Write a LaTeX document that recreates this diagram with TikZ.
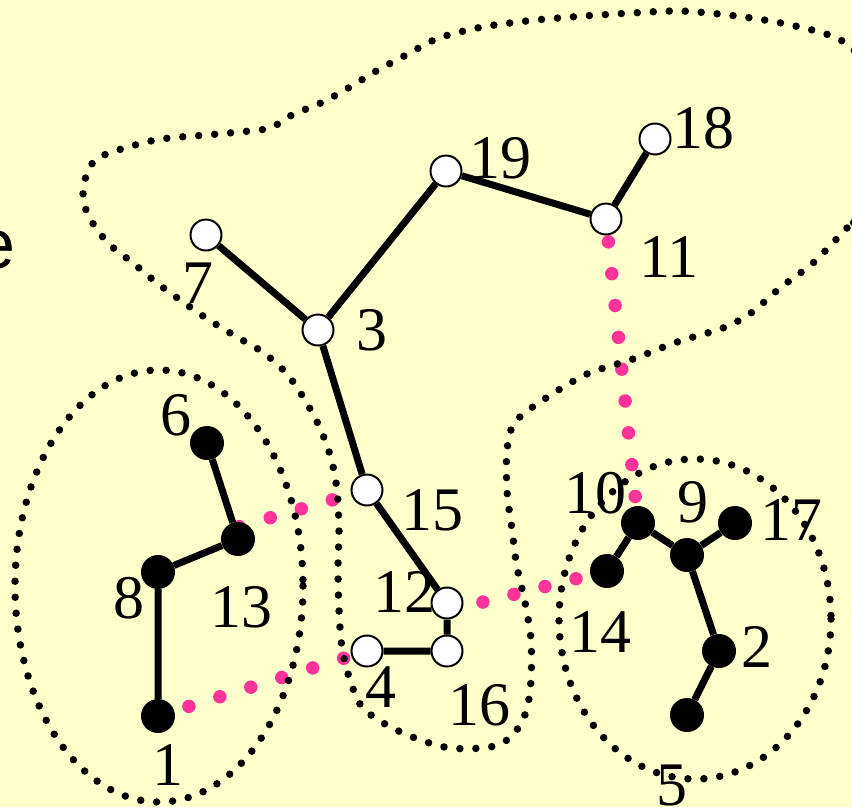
\documentclass[tikz,border=0pt]{standalone}
\usepackage{fontspec}
\setmainfont{Liberation Serif}
\newfontfamily\sansfam{Liberation Sans}
\definecolor{paper}{RGB}{255,255,204}
\definecolor{hotpink}{RGB}{255,51,153}
\pgfdeclarelayer{paperlayer}
\pgfdeclarelayer{linelayer}
\pgfsetlayers{paperlayer,linelayer,main}
\begin{document}
\begin{tikzpicture}[x=1pt,y=-1pt,
  wnode/.style={circle,draw=black,line width=2pt,fill=white,minimum size=31pt,inner sep=0pt},
  bnode/.style={circle,fill=black,minimum size=34pt,inner sep=0pt},
  bond/.style={line width=7pt},
  link/.style={draw=hotpink,line width=13.5pt,line cap=round,dash pattern=on 0pt off 32pt},
  outline/.style={line width=7.5pt,line cap=round,dash pattern=on 0pt off 16pt},
  lbl/.style={font=\fontsize{62pt}{62pt}\selectfont,inner sep=0pt,anchor=base}]

% page and background
\begin{pgfonlayer}{paperlayer}
\fill[paper] (0,0) rectangle (852,807);
\end{pgfonlayer}
\useasboundingbox (0,0) rectangle (852,807);

% fragment of a word at the left border
\node[font=\sansfam\fontsize{70pt}{70pt}\selectfont,inner sep=0pt,anchor=base east] (wordtail) at (16,268) {e};

% tree nodes: white (upper part) and black (clusters)
\node[wnode] (n18) at (655,139) {};
\node[wnode] (n19) at (446,171) {};
\node[wnode] (n11) at (606,219) {};
\node[wnode] (n7)  at (206,235) {};
\node[wnode] (n3)  at (318,330) {};
\node[wnode] (n15) at (367,490) {};
\node[wnode] (n12) at (447,603) {};
\node[wnode] (n16) at (447,651) {};
\node[wnode] (n4)  at (367,651) {};
\node[bnode] (n6)  at (207,443) {};
\node[bnode] (n13) at (238,539) {};
\node[bnode] (n8)  at (158,572) {};
\node[bnode] (n1)  at (158,716) {};
\node[bnode] (n10) at (638,523) {};
\node[bnode] (n9)  at (687,555) {};
\node[bnode] (n17) at (735,523) {};
\node[bnode] (n14) at (607,571) {};
\node[bnode] (n2)  at (719,651) {};
\node[bnode] (n5)  at (687,715) {};

\begin{pgfonlayer}{linelayer}
% pink dotted cross links
\draw[link,dash phase=9pt] (n11.center) -- (n10.center);
\draw[link,dash pattern=on 0pt off 32.4pt] (n1.center) -- (n4.center);
\draw[link,dash phase=27pt] ([yshift=-8pt]n12.center) -- (n14.center);
\draw[link,dash pattern=on 0pt off 32.3pt,dash phase=31pt] ([yshift=12pt]n13.center) -- (n15.center);

% dotted cluster outlines
\begin{scope}
\clip (0,0) rectangle (852,807);
\draw[outline] plot[smooth cycle,tension=0.5] coordinates {
  (870,205) (847,228) (813,263) (780,288) (751,313) (723,328) (677,342)
  (633,359) (587,374) (546,398) (515,422) (507,450) (507,490) (512,530)
  (517,567) (525,602) (531,640) (531,680) (526,712) (512,736) (490,747)
  (450,748) (415,738) (385,724) (362,707) (350,680) (342,648) (339,610)
  (338,568) (339,530) (337,490) (331,458) (320,428) (305,400) (287,374)
  (264,353) (237,337) (209,320) (183,302) (157,283) (133,263) (108,243)
  (89,217) (83,195) (88,170) (100,157) (128,147) (161,139) (206,135)
  (239,132) (270,128) (292,115) (323,102) (350,87) (378,70) (406,55)
  (434,40) (456,33) (488,26) (536,20) (584,16) (632,13) (680,11) (728,15)
  (776,22) (823,33) (848,45) (875,75) (890,130)};
\end{scope}
\draw[outline] (159,586) ellipse [x radius=144, y radius=216];
\draw[outline] (695,619) ellipse [x radius=136, y radius=160];

% bonds
\draw[bond] (n18) -- (n11) -- (n19) -- (n3) -- (n15) -- (n12) -- (n16) -- (n4);
\draw[bond] (n7) -- (n3);
\draw[bond] (n6) -- (n13) -- (n8) -- (n1);
\draw[bond] (n14) -- (n10) -- (n9) -- (n17);
\draw[bond] (n9) -- (n2) -- (n5);
\end{pgfonlayer}

% labels
\node[lbl] (l18) at (703,148) {18};
\node[lbl] (l19) at (500,178) {19};
\node[lbl] (l11) at (669,277) {11};
\node[lbl] (l7)  at (198,303) {7};
\node[lbl] (l3)  at (372,350) {3};
\node[lbl] (l15) at (432,530) {15};
\node[lbl] (l12) at (404,612) {12};
\node[lbl] (l16) at (479,725) {16};
\node[lbl] (l4)  at (381,707) {4};
\node[lbl] (l6)  at (176,435) {6};
\node[lbl] (l8)  at (129,618) {8};
\node[lbl] (l13) at (241,627) {13};
\node[lbl] (l1)  at (168,785) {1};
\node[lbl] (l10) at (595,513) {10};
\node[lbl] (l9)  at (693,522) {9};
\node[lbl] (l17) at (791,540) {17};
\node[lbl] (l14) at (600,652) {14};
\node[lbl] (l2)  at (757,667) {2};
\node[lbl] (l5)  at (672,805) {5};
\end{tikzpicture}
\end{document}
